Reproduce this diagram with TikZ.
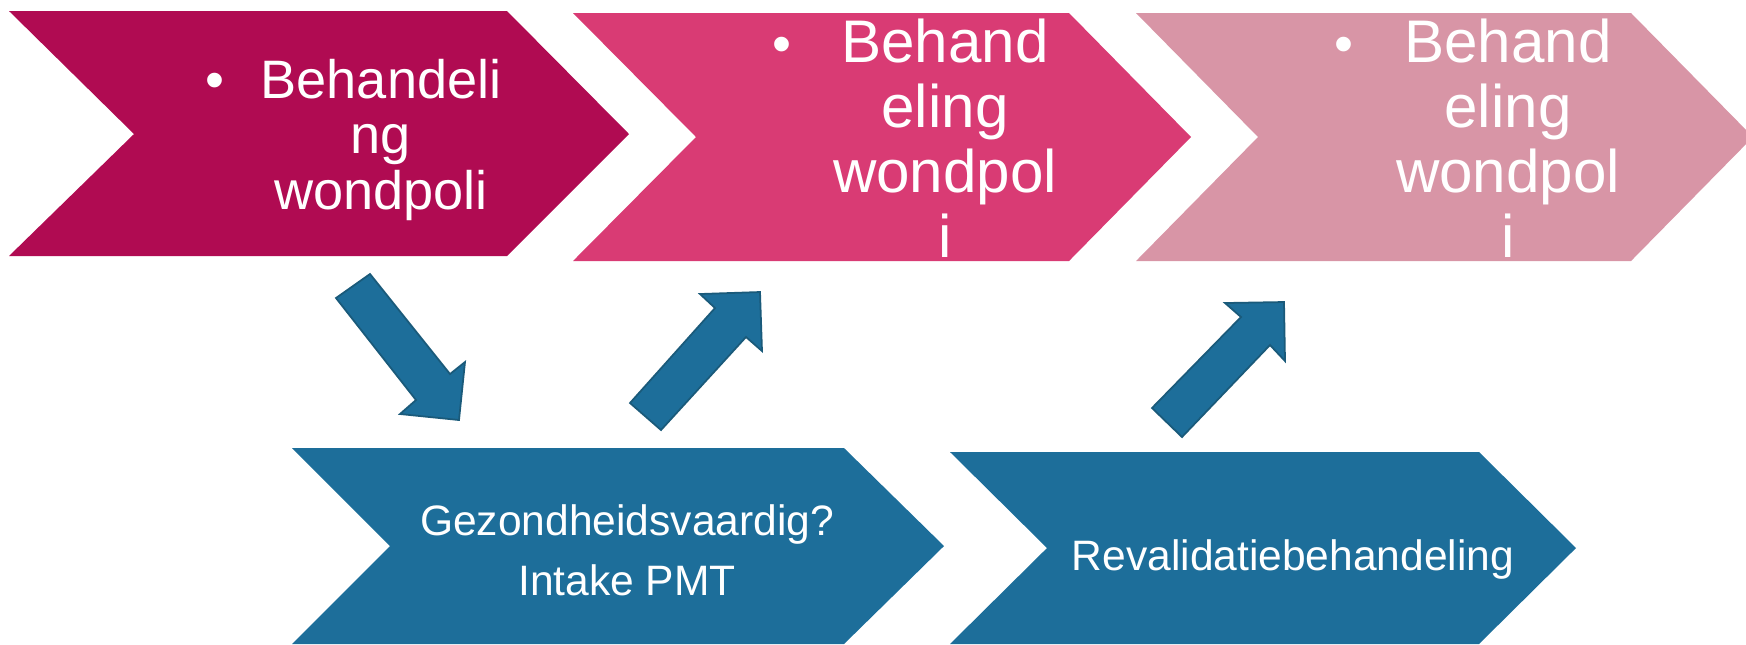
\documentclass[tikz,border=0pt]{standalone}
\usepackage{fontspec}
\setmainfont{Liberation Sans}
\usepackage{xcolor}
\usetikzlibrary{positioning}

\definecolor{wineRed}{HTML}{B00B52}
\definecolor{rosePink}{HTML}{D93B74}
\definecolor{palePink}{HTML}{D895A6}
\definecolor{seaBlue}{HTML}{1D6E9A}
\definecolor{seaBlueDark}{HTML}{1A5A7A}

\newcommand\woundfont{\fontsize{15.4}{15.65}\selectfont}
\newcommand\woundbigfont{\fontsize{17.1}{18.5}\selectfont}
\newcommand\bluefont{\fontsize{12.1}{17.07}\selectfont}

\begin{document}
\begin{tikzpicture}[x=0.01cm, y=-0.01cm, line join=miter,
    chevtext/.style={text=white, align=center, inner sep=0pt, anchor=north},
    bullettext/.style={text=white, inner sep=0pt, anchor=base, font=\woundfont},
    bigarrow/.style={fill=seaBlue, draw=seaBlueDark, line width=0.5pt}]
  \clip (0,0) rectangle (1746,644);
  %--- Wondpoli 1
    \fill[wineRed] (9,11) -- (507,11) -- (629,134) -- (507,256) -- (9,256) -- (134,134) -- cycle;
    \node[bullettext] (bul1) at (215,98) {\textbullet};
    \node[chevtext, font=\woundfont] (wond1) at (381,59) {Behandeli\\ng\\wondpoli};
  %--- Wondpoli 2
    \fill[rosePink] (573,13) -- (1069,13) -- (1191,137) -- (1069,261) -- (573,261) -- (696,137) -- cycle;
    \node[bullettext] (bul2) at (782,62) {\textbullet};
    \node[chevtext, font=\woundbigfont] (wond2) at (945,18) {Behand\\eling\\wondpol\\i};
  %--- Wondpoli 3
    \fill[palePink] (1136,13) -- (1631,13) -- (1753,137) -- (1631,261) -- (1136,261) -- (1258,137) -- cycle;
    \node[bullettext] (bul3) at (1344,62) {\textbullet};
    \node[chevtext, font=\woundbigfont] (wond3) at (1508,18) {Behand\\eling\\wondpol\\i};
  %--- Intake PMT
    \fill[seaBlue] (292,448) -- (844,448) -- (944,546) -- (844,644) -- (292,644) -- (390,546) -- cycle;
    \node[chevtext, font=\bluefont] (intake) at (627,504) {Gezondheidsvaardig?\\Intake PMT};
  %--- Revalidatie
    \fill[seaBlue] (950,452) -- (1479,452) -- (1576,548) -- (1479,644) -- (950,644) -- (1047,548) -- cycle;
    \node[text=white, inner sep=0pt, anchor=base, font=\bluefont] (reval) at (1293,570) {Revalidatiebehandeling};
  % Pijlen
    \draw[bigarrow] (336,298) -- (370,274) -- (450,374) -- (465,362) -- (459,420) -- (400,414) -- (416,400) -- cycle;
    \draw[bigarrow] (661,430) -- (630,403) -- (715,308) -- (700,294) -- (760,292) -- (762,351) -- (746,337) -- cycle;
    \draw[bigarrow] (1182,437) -- (1152,408) -- (1241,317) -- (1225,303) -- (1284,302) -- (1285,361) -- (1270,345) -- cycle;
\end{tikzpicture}
\end{document}
